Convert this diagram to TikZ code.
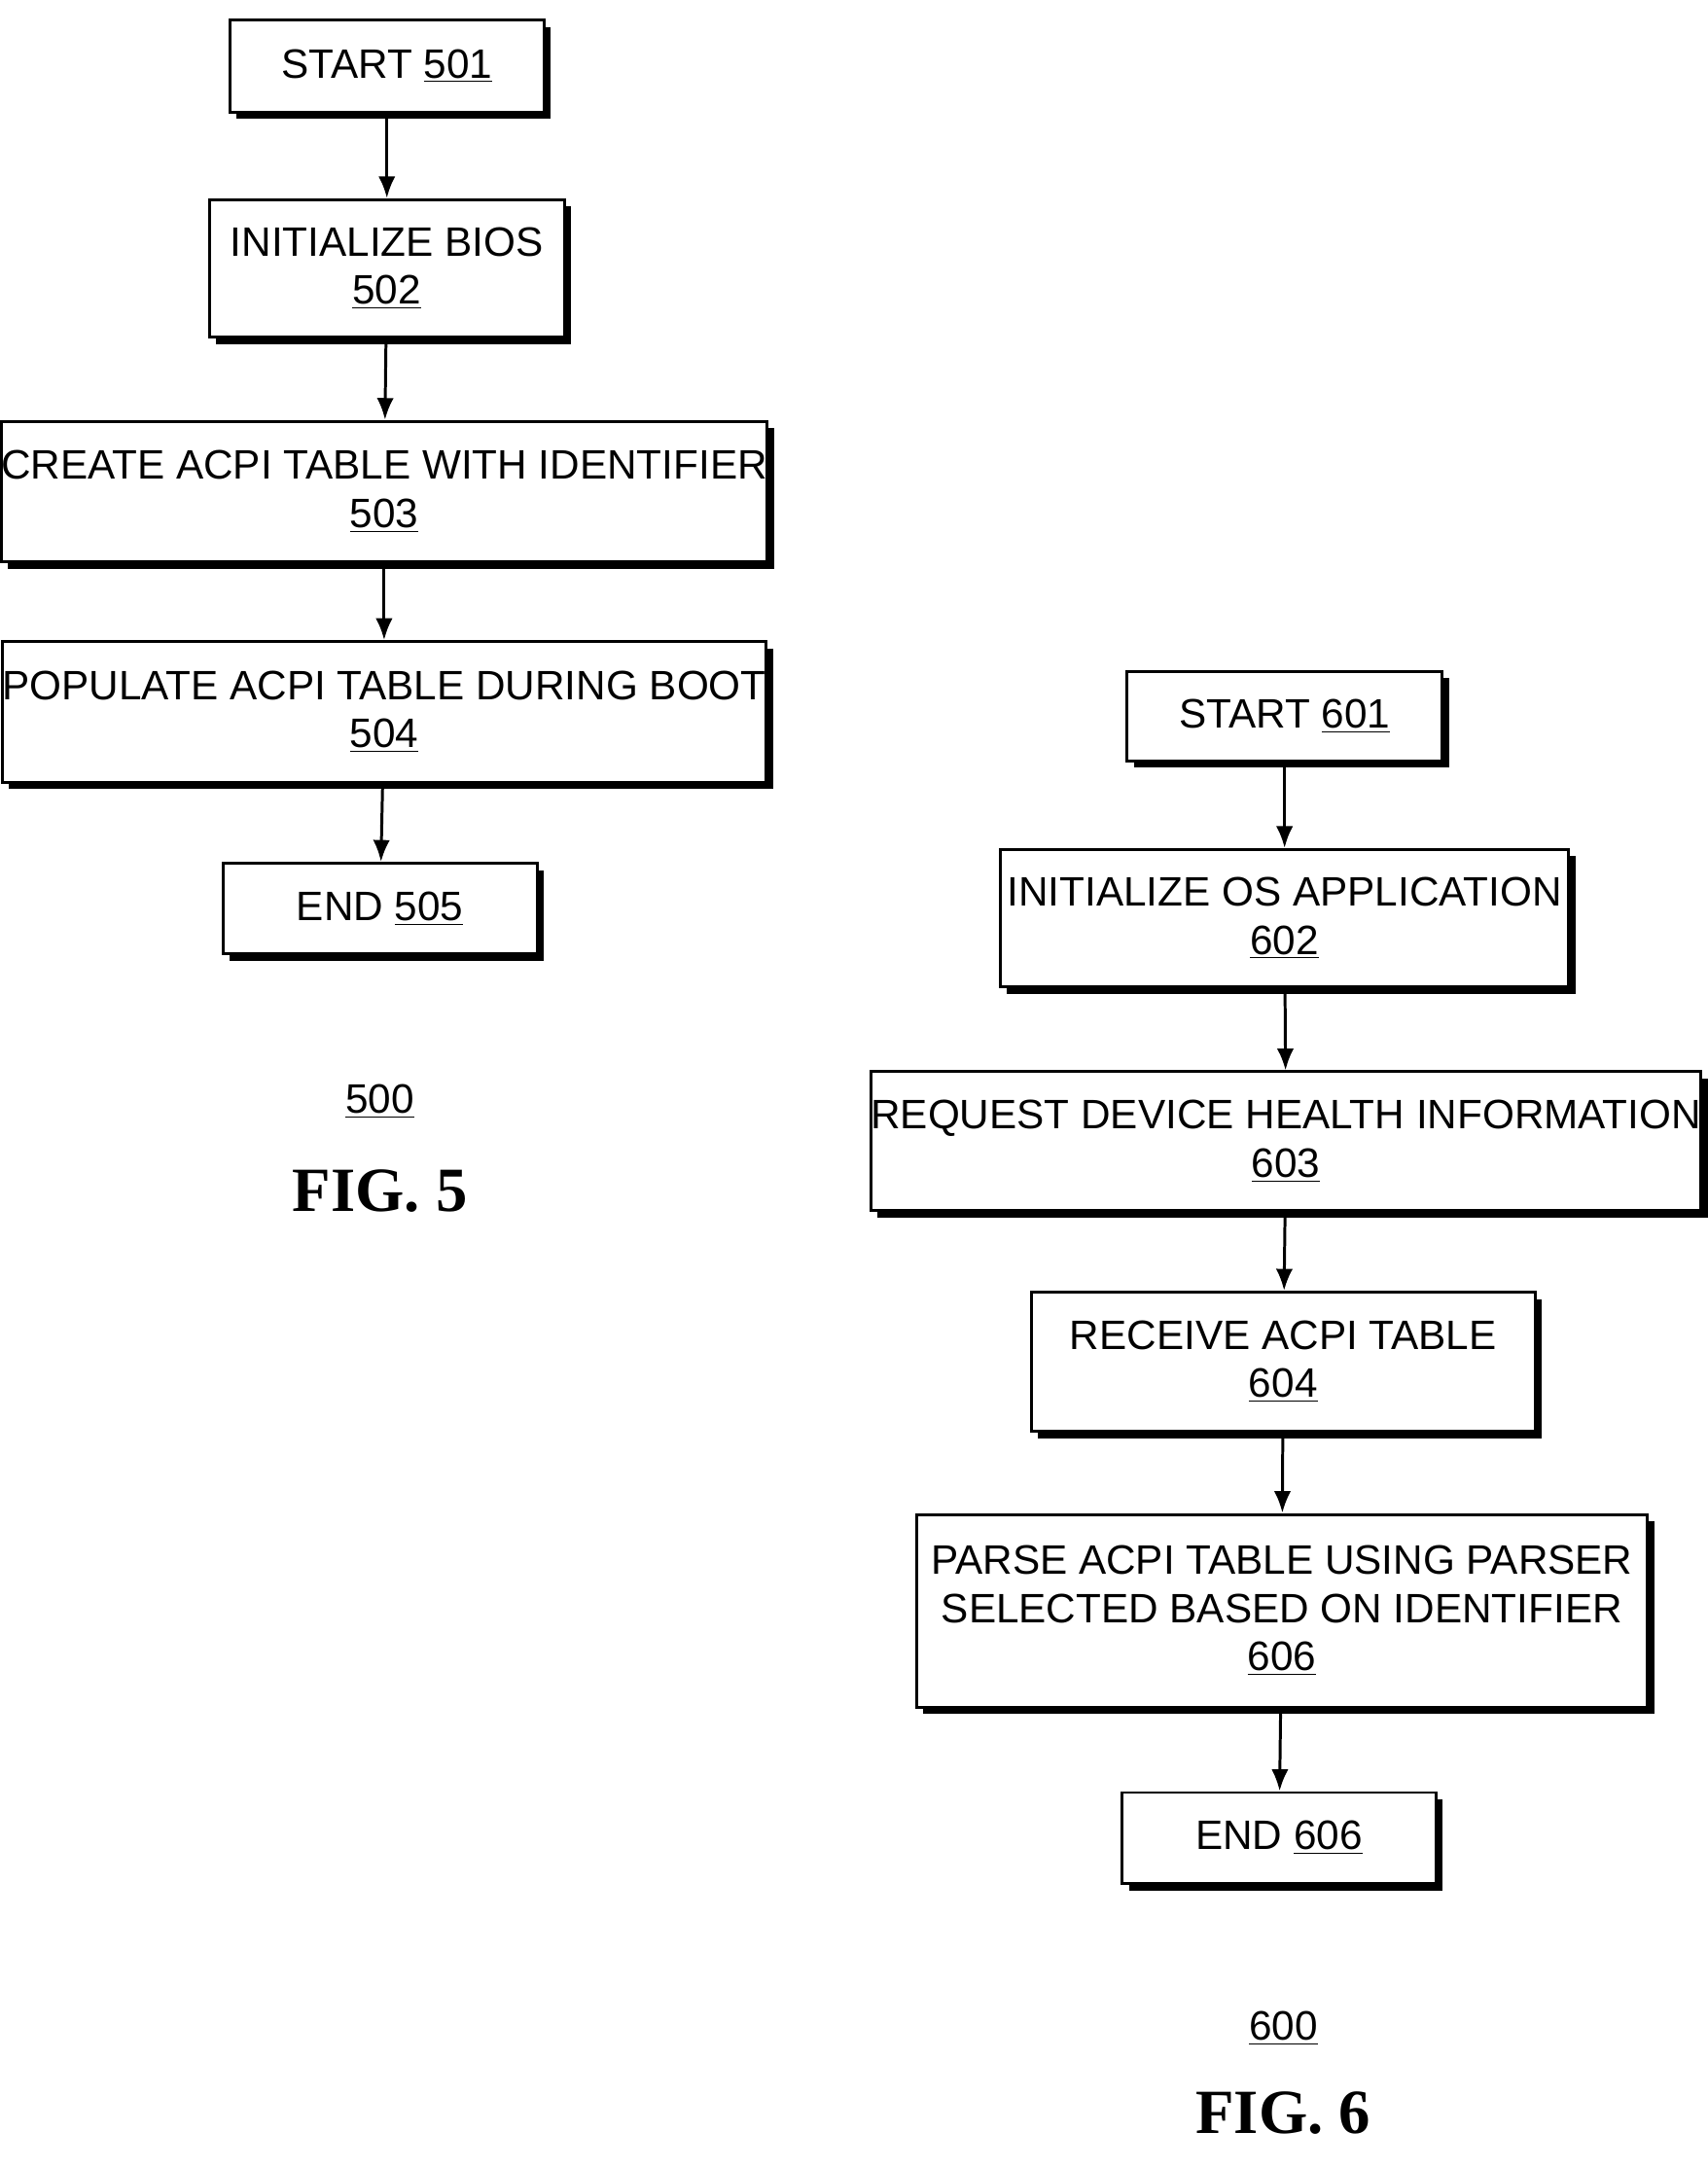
\documentclass[tikz,border=0pt]{standalone}
\usepackage{fontspec}
\setmainfont{Liberation Sans}
\newfontfamily\figfont{Liberation Serif}
\usetikzlibrary{shadows,arrows.meta}
\begin{document}
\begin{tikzpicture}[x=0.02cm,y=-0.02cm,
    stepbox/.style={draw, line width=1.2pt, fill=white, align=center, font=\fontsize{17}{20}\selectfont,
      inner sep=0pt, drop shadow={shadow xshift=0.1cm, shadow yshift=-0.1cm, fill=black, opacity=1}},
    flow/.style={-{Latex[length=9pt,width=7pt]}, line width=1.2pt},
    fig/.style={font=\figfont\bfseries\fontsize{26}{30}\selectfont}]
    \useasboundingbox (0,0) rectangle (1240,1574);

    % Figure 5
    \node[stepbox, minimum width=228*0.02cm, minimum height=67*0.02cm] (s501) at (281,48) {START \underline{501}};
    \node[stepbox, minimum width=258*0.02cm, minimum height=100*0.02cm] (s502) at (281,195) {INITIALIZE BIOS\\\underline{502}};
    \node[stepbox, minimum width=528*0.02cm, minimum height=102*0.02cm] (s503) at (279,357) {CREATE ACPI TABLE WITH IDENTIFIER\\\underline{503}};
    \node[stepbox, minimum width=528*0.02cm, minimum height=102*0.02cm] (s504) at (279,517) {POPULATE ACPI TABLE DURING BOOT\\\underline{504}};
    \node[stepbox, minimum width=228*0.02cm, minimum height=66*0.02cm] (s505) at (276,660) {END \underline{505}};
    \draw[flow] (s501) -- (s502);
    \draw[flow] (s502) -- (s503);
    \draw[flow] (s503) -- (s504);
    \draw[flow] (s504) -- (s505);
    \node[font=\fontsize{17}{20}\selectfont] (n500) at (276,800) {\underline{500}};
    \node[fig] (fig5) at (276,865) {FIG. 5};

    % Figure 6
    \node[stepbox, minimum width=229*0.02cm, minimum height=65*0.02cm] (s601) at (933,520) {START \underline{601}};
    \node[stepbox, minimum width=413*0.02cm, minimum height=100*0.02cm] (s602) at (933,667) {INITIALIZE OS APPLICATION\\\underline{602}};
    \node[stepbox, minimum width=566*0.02cm, minimum height=101*0.02cm] (s603) at (934,829) {REQUEST DEVICE HEALTH INFORMATION\\\underline{603}};
    \node[stepbox, minimum width=366*0.02cm, minimum height=101*0.02cm] (s604) at (932,989) {RECEIVE ACPI TABLE\\\underline{604}};
    \node[stepbox, minimum width=531*0.02cm, minimum height=140*0.02cm] (s606) at (931,1170) {PARSE ACPI TABLE USING PARSER\\SELECTED BASED ON IDENTIFIER\\\underline{606}};
    \node[stepbox, minimum width=228*0.02cm, minimum height=66*0.02cm] (e606) at (929,1335) {END \underline{606}};
    \draw[flow] (s601) -- (s602);
    \draw[flow] (s602) -- (s603);
    \draw[flow] (s603) -- (s604);
    \draw[flow] (s604) -- (s606);
    \draw[flow] (s606) -- (e606);
    \node[font=\fontsize{17}{20}\selectfont] (n600) at (932,1473) {\underline{600}};
    \node[fig] (fig6) at (932,1535) {FIG. 6};
\end{tikzpicture}
\end{document}
